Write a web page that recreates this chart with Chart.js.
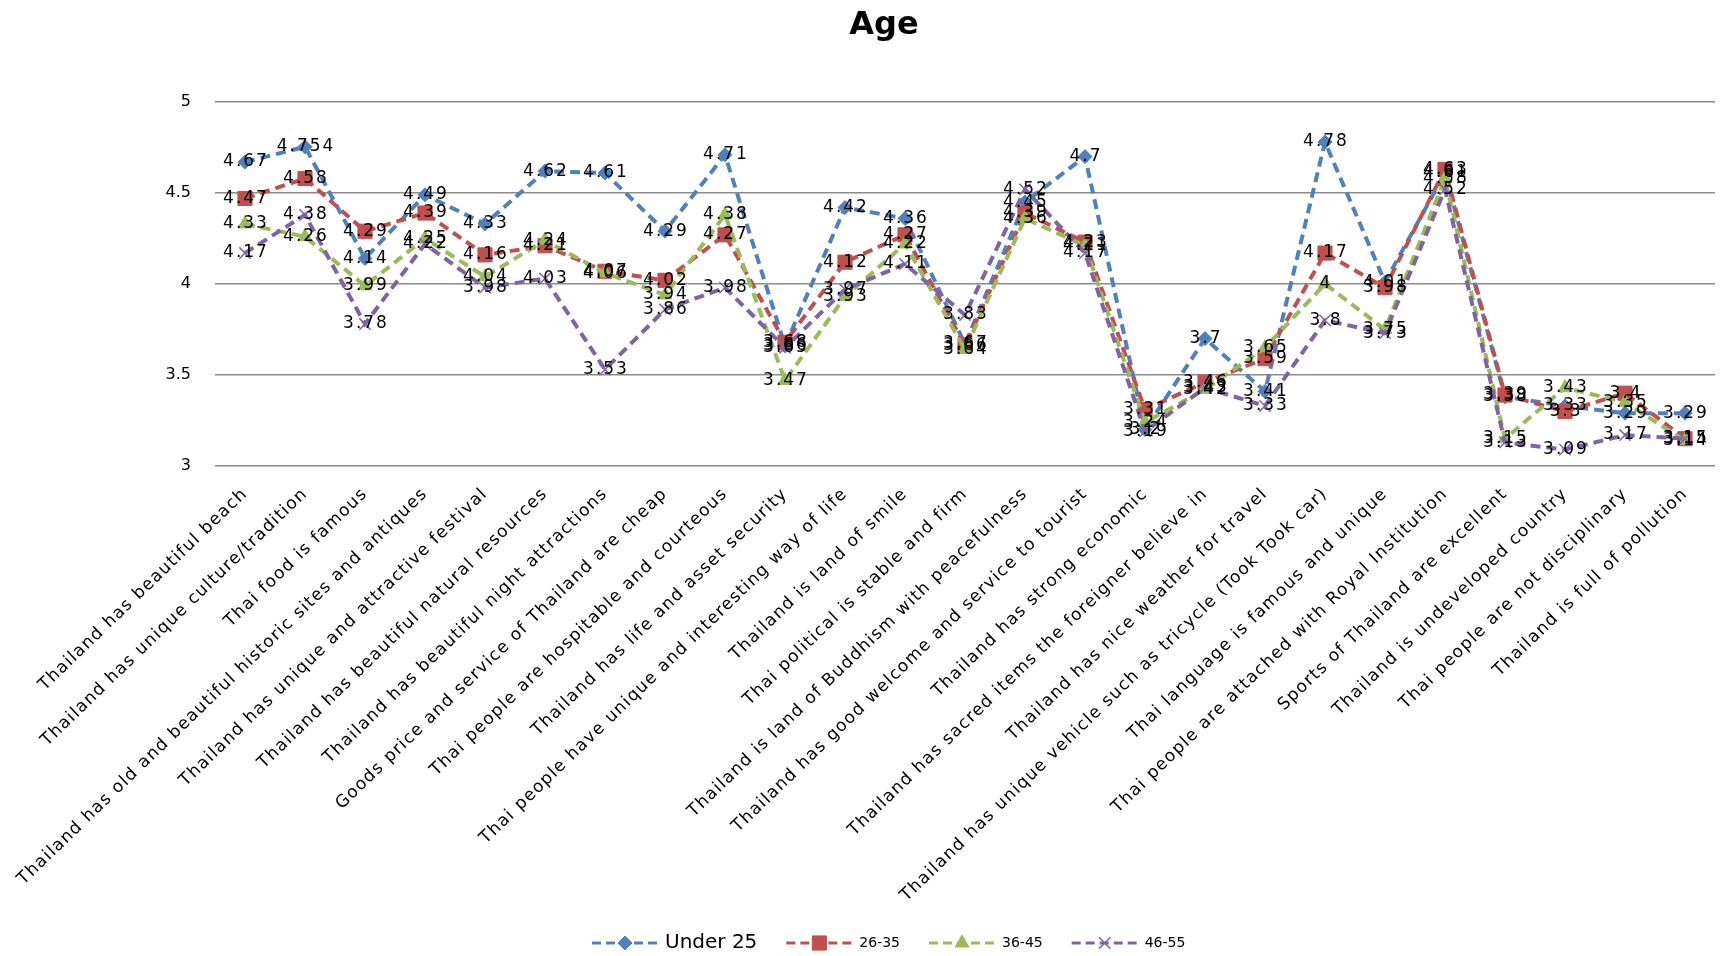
<!DOCTYPE html>
<html>
<head>
<meta charset="utf-8">
<title>Age</title>
<script src="https://cdn.jsdelivr.net/npm/chart.js@4.4.0/dist/chart.umd.min.js"></script>
<style>
  html, body { margin: 0; padding: 0; background: #ffffff; }
  #wrap { width: 1729px; height: 956px; position: relative; }
</style>
</head>
<body>
<div id="wrap"><canvas id="chart"></canvas></div>
<script>
// Survey statements (x axis)
const categories = [
  'Thailand has beautiful beach',
  'Thailand has unique culture/tradition',
  'Thai food is famous',
  'Thailand has old and beautiful historic sites and antiques',
  'Thailand has unique and attractive festival',
  'Thailand has beautiful natural resources',
  'Thailand has beautiful night attractions',
  'Goods price and service of Thailand are cheap',
  'Thai people are hospitable and courteous',
  'Thailand has life and asset security',
  'Thai people have unique and interesting way of life',
  'Thailand is land of smile',
  'Thai political is stable and firm',
  'Thailand is land of Buddhism with peacefulness',
  'Thailand has good welcome and service to tourist',
  'Thailand has strong economic',
  'Thailand has sacred items the foreigner believe in',
  'Thailand has nice weather for travel',
  'Thailand has unique vehicle such as tricycle (Took Took car)',
  'Thai language is famous and unique',
  'Thai people are attached with Royal Institution',
  'Sports of Thailand are excellent',
  'Thailand is undeveloped country',
  'Thai people are not disciplinary',
  'Thailand is full of pollution'
];

// Mean scores per age group
const seriesNames = ['Under 25', '26-35', '36-45', '46-55'];
const under25 = [4.67, 4.754, 4.14, 4.49, 4.33, 4.62, 4.61, 4.29, 4.71, 3.66, 4.42, 4.36, 3.67, 4.45, 4.7, 3.2, 3.7, 3.41, 4.78, 4.01, 4.61, 3.38, 3.33, 3.29, 3.29];
const age26to35 = [4.47, 4.58, 4.29, 4.39, 4.16, 4.21, 4.07, 4.02, 4.27, 3.68, 4.12, 4.27, 3.66, 4.39, 4.23, 3.31, 3.46, 3.59, 4.17, 3.98, 4.63, 3.39, 3.3, 3.4, 3.15];
const age36to45 = [4.33, 4.26, 3.99, 4.25, 4.04, 4.24, 4.06, 3.94, 4.38, 3.47, 3.93, 4.22, 3.64, 4.36, 4.21, 3.24, 3.42, 3.65, 4, 3.75, 4.58, 3.15, 3.43, 3.35, 3.14];
const age46to55 = [4.17, 4.38, 3.78, 4.22, 3.98, 4.03, 3.53, 3.86, 3.98, 3.65, 3.97, 4.11, 3.83, 4.52, 4.17, 3.19, 3.43, 3.33, 3.8, 3.73, 4.52, 3.13, 3.09, 3.17, 3.15];

// Value axis
const yTickLabels = ['3', '3.5', '4', '4.5', '5'];
const chartTitle = 'Age';

const FONT = 'DejaVu Sans';
const colors = ['#4F81BD', '#C0504D', '#9BBB59', '#8064A2'];
const markers = [
  { pointStyle: 'rectRot', radius: 7 },
  { pointStyle: 'rect', radius: 10 },
  { pointStyle: 'triangle', radius: 8 },
  { pointStyle: 'crossRot', radius: 8 }
];
const values = [under25, age26to35, age36to45, age46to55];

const datasets = values.map((data, i) => ({
  label: seriesNames[i],
  data: data,
  borderColor: colors[i],
  backgroundColor: colors[i],
  borderWidth: 4,
  borderDash: [10, 6],
  pointStyle: markers[i].pointStyle,
  pointRadius: markers[i].radius,
  pointHoverRadius: markers[i].radius,
  pointBorderWidth: markers[i].pointStyle === 'crossRot' ? 1.5 : 1,
  pointBorderColor: colors[i],
  pointBackgroundColor: colors[i],
  tension: 0,
  fill: false,
  order: values.length - i
}));

// Title, centred a little right of the canvas middle
const titlePlugin = {
  id: 'titlePlugin',
  afterDraw(chart) {
    const ctx = chart.ctx;
    ctx.save();
    ctx.font = 'bold 32px "' + FONT + '"';
    ctx.fillStyle = '#000000';
    ctx.textAlign = 'center';
    ctx.textBaseline = 'middle';
    ctx.fillText(chartTitle, 884, 26);
    ctx.restore();
  }
};

// Value labels centred on every point
const pointLabels = {
  id: 'pointLabels',
  afterDatasetsDraw(chart) {
    const ctx = chart.ctx;
    ctx.save();
    ctx.font = '17px "' + FONT + '"';
    ctx.letterSpacing = '2px';
    ctx.fillStyle = '#000000';
    ctx.textAlign = 'center';
    ctx.textBaseline = 'middle';
    chart.data.datasets.forEach((ds, i) => {
      const meta = chart.getDatasetMeta(i);
      meta.data.forEach((pt, j) => {
        ctx.fillText(String(ds.data[j]), pt.x + 1, pt.y);
      });
    });
    ctx.restore();
  }
};

// Slightly spaced lettering for the category labels
const spacedCategoryLabels = {
  id: 'spacedCategoryLabels',
  afterLayout(chart) {
    const xs = chart.scales.x;
    if (!xs || xs._spaced) return;
    const orig = xs.drawLabels.bind(xs);
    xs.drawLabels = function (area) {
      const ctx = this.ctx;
      ctx.save();
      ctx.letterSpacing = '1.3px';
      orig(area);
      ctx.restore();
    };
    xs._spaced = true;
  }
};

// Bottom legend: dashed sample line with marker, then the series name
const lineLegend = {
  id: 'lineLegend',
  afterDraw(chart) {
    const ctx = chart.ctx;
    const y = 943;
    const sampleW = 66;
    let x = 592;
    ctx.save();
    chart.data.datasets.forEach((ds, i) => {
      ctx.strokeStyle = ds.borderColor;
      ctx.lineWidth = 3;
      ctx.setLineDash([9, 5]);
      ctx.beginPath();
      ctx.moveTo(x, y);
      ctx.lineTo(x + sampleW, y);
      ctx.stroke();
      ctx.setLineDash([]);
      ctx.fillStyle = ds.borderColor;
      ctx.strokeStyle = ds.borderColor;
      ctx.lineWidth = ds.pointBorderWidth;
      Chart.helpers.drawPoint(ctx, {
        pointStyle: ds.pointStyle,
        radius: ds.pointRadius,
        borderWidth: ds.pointBorderWidth,
        rotation: 0
      }, x + sampleW / 2, y);
      const size = i === 0 ? 20 : 14;
      ctx.font = size + 'px "' + FONT + '"';
      ctx.fillStyle = '#000000';
      ctx.textAlign = 'left';
      ctx.textBaseline = 'middle';
      const tx = x + sampleW + 7;
      ctx.fillText(ds.label, tx, y);
      x = tx + ctx.measureText(ds.label).width + 29;
    });
    ctx.restore();
  }
};

new Chart(document.getElementById('chart'), {
  type: 'line',
  data: { labels: categories, datasets: datasets },
  options: {
    responsive: true,
    maintainAspectRatio: false,
    animation: false,
    events: [],
    layout: { padding: { left: 0, right: 14, top: 102, bottom: 0 } },
    plugins: {
      legend: { display: false },
      tooltip: { enabled: false },
      title: { display: false }
    },
    scales: {
      x: {
        offset: true,
        grid: { display: false, drawTicks: false },
        border: { display: false },
        ticks: {
          color: '#000000',
          font: { family: FONT, size: 17 },
          minRotation: 44,
          maxRotation: 44,
          autoSkip: false,
          padding: 18
        },
        afterFit(scale) { scale.height = 956 - 466; }
      },
      y: {
        min: 3,
        max: 5,
        grid: { color: '#8C8C8C', lineWidth: 1.5, drawTicks: false },
        border: { display: false },
        ticks: {
          stepSize: 0.5,
          color: '#000000',
          font: { family: FONT, size: 16 },
          padding: 24,
          callback: (v, idx) => yTickLabels[idx]
        },
        afterFit(scale) { scale.width = 215; }
      }
    }
  },
  plugins: [spacedCategoryLabels, pointLabels, titlePlugin, lineLegend]
});
</script>
</body>
</html>
